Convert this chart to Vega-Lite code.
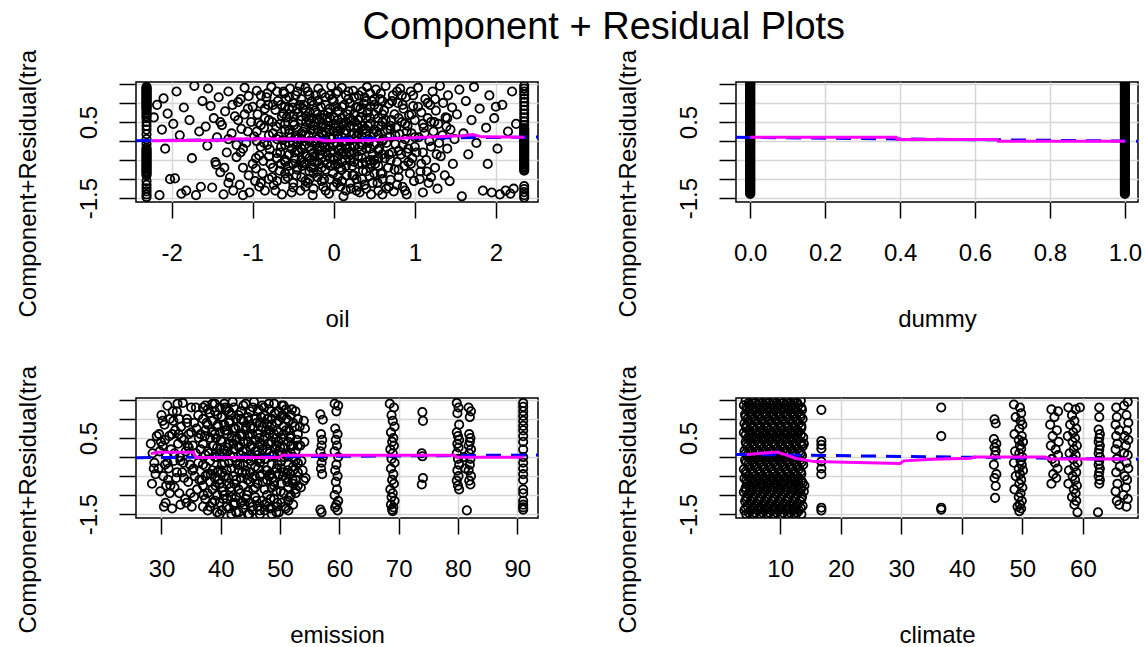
{
"$schema": "https://vega.github.io/schema/vega-lite/v6.json",
"padding": {"left": 15, "top": 8, "right": 0, "bottom": 0},
"background": "white",
"title": {"text": "Component + Residual Plots", "fontSize": 38, "font": "Liberation Sans", "fontWeight": "normal", "color": "black", "anchor": "middle", "baseline": "alphabetic", "offset": -28, "dx": 25},
"bounds": "flush",
"columns": 2,
"spacing": {"row": 196, "column": 198},
"config": {
  "font": "Liberation Sans",
  "view": {"stroke": "black", "strokeWidth": 1.5},
  "axis": {"domain": false, "grid": true, "gridColor": "#d6d6d6", "gridWidth": 1.5, "ticks": true, "tickColor": "black", "tickWidth": 1.5, "labelFont": "Liberation Sans", "labelFontSize": 24, "labelColor": "black", "titleFont": "Liberation Sans", "titleFontSize": 24, "titleFontWeight": "normal", "titleColor": "black", "labelFlush": false, "labelOverlap": false},
  "axisX": {"tickSize": 16, "labelPadding": 42, "labelBaseline": "alphabetic", "titleY": 124, "titleBaseline": "alphabetic"},
  "axisY": {"tickSize": 17, "labelAngle": 270, "labelAlign": "center", "labelBaseline": "alphabetic", "labelPadding": 23, "titleX": -101, "titleY": 235, "titleAlign": "left", "titleAngle": 270, "titleBaseline": "alphabetic"}
},
"datasets": {
"p1": [
{"x":-2.31,"y":1.42},{"x":-2.31,"y":1.36},{"x":-2.31,"y":1.3},{"x":-2.31,"y":1.24},{"x":-2.31,"y":1.18},{"x":-2.31,"y":1.12},{"x":-2.31,"y":1.06},{"x":-2.31,"y":1.0},{"x":-2.31,"y":0.94},{"x":-2.31,"y":0.88},{"x":-2.31,"y":0.8},{"x":-2.31,"y":0.7},{"x":-2.31,"y":0.6},{"x":-2.31,"y":0.5},{"x":-2.31,"y":0.4},{"x":-2.31,"y":0.3},{"x":-2.31,"y":0.18},{"x":-2.31,"y":0.05},{"x":-2.31,"y":-0.08},{"x":-2.31,"y":-0.18},{"x":-2.31,"y":-0.26},{"x":-2.31,"y":-0.33},{"x":-2.31,"y":-0.4},{"x":-2.31,"y":-0.47},{"x":-2.31,"y":-0.54},{"x":-2.31,"y":-0.61},{"x":-2.31,"y":-0.68},{"x":-2.31,"y":-0.75},{"x":-2.31,"y":-0.82},{"x":-2.31,"y":-0.9},{"x":-2.31,"y":-1.05},{"x":-2.31,"y":-1.15},{"x":-2.31,"y":-1.24},{"x":-2.31,"y":-1.32},{"x":-2.31,"y":-1.4},{"x":-2.31,"y":-1.47},
{"x":-2.31,"y":1.39},{"x":-2.31,"y":1.33},{"x":-2.31,"y":1.27},{"x":-2.31,"y":1.21},{"x":-2.31,"y":1.15},{"x":-2.31,"y":1.09},{"x":-2.31,"y":1.03},{"x":-2.31,"y":0.97},{"x":-2.31,"y":0.91},{"x":-2.31,"y":0.85},{"x":-2.31,"y":0.75},{"x":-2.31,"y":0.65},{"x":-2.31,"y":-0.22},{"x":-2.31,"y":-0.3},{"x":-2.31,"y":-0.37},{"x":-2.31,"y":-0.44},{"x":-2.31,"y":-0.51},{"x":-2.31,"y":-0.58},{"x":-2.31,"y":-0.65},{"x":-2.31,"y":-0.72},{"x":-2.31,"y":-0.79},{"x":-2.31,"y":-0.86},
{"x":2.35,"y":1.45},{"x":2.35,"y":1.38},{"x":2.35,"y":1.3},{"x":2.35,"y":1.22},{"x":2.35,"y":1.12},{"x":2.35,"y":1.02},{"x":2.35,"y":0.92},{"x":2.35,"y":0.82},{"x":2.35,"y":0.72},{"x":2.35,"y":0.62},{"x":2.35,"y":0.52},{"x":2.35,"y":0.42},{"x":2.35,"y":0.34},{"x":2.35,"y":0.26},{"x":2.35,"y":0.18},{"x":2.35,"y":0.1},{"x":2.35,"y":0.02},{"x":2.35,"y":-0.06},{"x":2.35,"y":-0.14},{"x":2.35,"y":-0.22},{"x":2.35,"y":-0.3},{"x":2.35,"y":-0.38},{"x":2.35,"y":-0.46},{"x":2.35,"y":-0.54},{"x":2.35,"y":-0.62},{"x":2.35,"y":-0.7},{"x":2.35,"y":-0.78},{"x":2.35,"y":-1.18},{"x":2.35,"y":-1.26},{"x":2.35,"y":-1.34},{"x":2.35,"y":-1.42},{"x":2.35,"y":-1.48},
{"x":2.35,"y":0.3},{"x":2.35,"y":0.22},{"x":2.35,"y":0.14},{"x":2.35,"y":0.06},{"x":2.35,"y":-0.02},{"x":2.35,"y":-0.1},{"x":2.35,"y":-0.18},{"x":2.35,"y":-0.26},{"x":2.35,"y":-0.34},{"x":2.35,"y":-0.42},{"x":2.35,"y":-0.5},{"x":2.35,"y":-0.58},{"x":2.35,"y":-0.66},{"x":2.35,"y":-0.74},
{"x":-2.22,"y":0.62},{"x":-2.18,"y":0.95},{"x":-2.15,"y":-1.42},{"x":-2.12,"y":0.3},{"x":-2.1,"y":1.12},{"x":-2.08,"y":-0.2},{"x":-2.05,"y":0.72},{"x":-2.02,"y":-1.0},{"x":-1.98,"y":0.45},{"x":-1.96,"y":-0.98},{"x":-1.94,"y":1.3},{"x":-1.9,"y":0.15},{"x":-1.88,"y":-1.38},{"x":-1.85,"y":0.88},{"x":-1.82,"y":-1.3},{"x":-1.78,"y":0.55},{"x":-1.75,"y":-0.45},{"x":-1.72,"y":1.45},{"x":-1.7,"y":-1.42},{"x":-1.66,"y":0.25},{"x":-1.64,"y":-1.2},{"x":-1.62,"y":1.05},
{"x":-1.58,"y":0.38},{"x":-1.56,"y":-0.12},{"x":-1.55,"y":1.38},{"x":-1.52,"y":0.92},{"x":-1.5,"y":-1.22},{"x":-1.48,"y":0.6},{"x":-1.46,"y":-0.55},{"x":-1.44,"y":0.1},{"x":-1.42,"y":1.15},{"x":-1.4,"y":-0.82},{"x":-1.38,"y":0.42},{"x":-1.36,"y":-1.4},{"x":-1.34,"y":0.78},{"x":-1.32,"y":-0.3},{"x":-1.3,"y":1.3},{"x":-1.28,"y":-0.95},{"x":-1.26,"y":0.2},{"x":-1.24,"y":-1.3},{"x":-1.22,"y":0.65},{"x":-1.2,"y":-0.42},{"x":-1.18,"y":1.02},{"x":-1.16,"y":-1.15},{"x":-1.14,"y":0.32},{"x":-1.12,"y":-0.7},{"x":-1.1,"y":1.4},{"x":-1.08,"y":-0.05},{"x":-1.06,"y":0.85},{"x":-1.04,"y":-1.35},{"x":-1.02,"y":0.5},{"x":-1.0,"y":-0.6},{"x":-1.45,"y":-0.62},{"x":-1.35,"y":-0.7},{"x":-1.25,"y":0.95},{"x":-1.15,"y":-0.3},{"x":-1.05,"y":1.18},{"x":-1.12,"y":-1.42},{"x":-1.3,"y":-1.1},
{"x":-0.98,"y":0.12},{"x":-0.97,"y":-1.05},{"x":-0.95,"y":1.32},{"x":-0.94,"y":0.7},{"x":-0.92,"y":-0.38},{"x":-0.9,"y":0.98},{"x":-0.88,"y":-0.85},{"x":-0.86,"y":0.35},{"x":-0.85,"y":-1.3},{"x":-0.83,"y":1.15},{"x":-0.82,"y":-0.1},{"x":-0.8,"y":0.55},{"x":-0.78,"y":-0.6},{"x":-0.77,"y":1.42},{"x":-0.75,"y":0.2},{"x":-0.74,"y":-1.15},{"x":-0.72,"y":0.82},{"x":-0.7,"y":-0.32},{"x":-0.69,"y":1.05},{"x":-0.67,"y":-0.78},{"x":-0.66,"y":0.45},{"x":-0.64,"y":-1.4},{"x":-0.63,"y":0.02},{"x":-0.61,"y":1.25},{"x":-0.6,"y":-0.5},{"x":-0.58,"y":0.62},{"x":-0.57,"y":-0.95},{"x":-0.55,"y":0.3},{"x":-0.54,"y":1.38},{"x":-0.52,"y":-0.2},{"x":-0.51,"y":0.88},{"x":-0.5,"y":-1.22},{"x":-0.93,"y":0.48},{"x":-0.87,"y":-0.52},{"x":-0.81,"y":0.95},{"x":-0.76,"y":-0.95},{"x":-0.71,"y":0.38},{"x":-0.65,"y":-0.15},{"x":-0.62,"y":0.72},{"x":-0.56,"y":-0.65},{"x":-0.53,"y":0.1},{"x":-0.96,"y":-0.72},{"x":-0.79,"y":-0.22},{"x":-0.68,"y":0.12},{"x":-0.59,"y":1.1},
{"x":-0.49,"y":0.42},{"x":-0.48,"y":-0.45},{"x":-0.47,"y":1.2},{"x":-0.46,"y":-0.9},{"x":-0.45,"y":0.05},{"x":-0.44,"y":0.75},{"x":-0.43,"y":-0.3},{"x":-0.42,"y":1.45},{"x":-0.41,"y":-1.3},{"x":-0.4,"y":0.55},{"x":-0.39,"y":-0.65},{"x":-0.38,"y":0.25},{"x":-0.37,"y":0.95},{"x":-0.36,"y":-0.1},{"x":-0.35,"y":-1.05},{"x":-0.34,"y":0.65},{"x":-0.33,"y":-0.4},{"x":-0.32,"y":1.3},{"x":-0.31,"y":0.15},{"x":-0.3,"y":-0.8},{"x":-0.29,"y":0.45},{"x":-0.28,"y":-0.25},{"x":-0.27,"y":1.05},{"x":-0.26,"y":-1.42},{"x":-0.25,"y":0.3},{"x":-0.24,"y":-0.55},{"x":-0.23,"y":0.8},{"x":-0.22,"y":-0.05},{"x":-0.21,"y":0.58},{"x":-0.2,"y":-0.95},{"x":-0.19,"y":1.38},{"x":-0.18,"y":0.1},{"x":-0.17,"y":-0.35},{"x":-0.16,"y":0.9},{"x":-0.15,"y":-0.7},{"x":-0.14,"y":0.38},{"x":-0.13,"y":-1.2},{"x":-0.12,"y":0.68},{"x":-0.11,"y":-0.15},{"x":-0.1,"y":1.15},{"x":-0.09,"y":0.22},{"x":-0.08,"y":-0.6},{"x":-0.07,"y":0.5},{"x":-0.06,"y":-1.38},{"x":-0.05,"y":0.85},{"x":-0.04,"y":-0.3},{"x":-0.03,"y":1.45},{"x":-0.02,"y":0.05},{"x":-0.01,"y":-0.85},{"x":0.0,"y":0.62},{"x":0.01,"y":-0.45},{"x":0.02,"y":0.35},{"x":0.03,"y":1.25},{"x":0.04,"y":-1.1},{"x":0.05,"y":0.15},{"x":0.06,"y":0.78},{"x":0.07,"y":-0.2},{"x":0.08,"y":-0.7},{"x":0.09,"y":0.48},{"x":0.1,"y":1.4},{"x":0.11,"y":-0.05},{"x":0.12,"y":-1.45},{"x":0.13,"y":0.95},{"x":0.14,"y":-0.5},{"x":0.15,"y":0.28},{"x":0.16,"y":-0.9},{"x":0.17,"y":0.7},{"x":0.18,"y":1.1},{"x":0.19,"y":-0.3},{"x":0.2,"y":0.02},{"x":0.21,"y":-1.25},{"x":0.22,"y":0.55},{"x":0.23,"y":-0.65},{"x":0.24,"y":1.32},{"x":0.25,"y":0.2},{"x":0.26,"y":-0.12},{"x":0.27,"y":0.88},{"x":0.28,"y":-1.0},{"x":0.29,"y":0.4},{"x":0.3,"y":-0.4},{"x":0.31,"y":1.2},{"x":0.32,"y":-1.35},{"x":0.33,"y":0.62},{"x":0.34,"y":-0.25},{"x":0.35,"y":0.1},{"x":0.36,"y":-0.78},{"x":0.37,"y":0.98},{"x":0.38,"y":-1.15},{"x":0.39,"y":0.32},{"x":0.4,"y":-0.55},{"x":0.41,"y":1.42},{"x":0.42,"y":0.75},{"x":0.43,"y":-0.05},{"x":0.44,"y":-0.92},{"x":0.45,"y":0.45},{"x":0.46,"y":-1.4},{"x":0.47,"y":1.05},{"x":0.48,"y":-0.35},{"x":0.49,"y":0.2},
{"x":-0.3,"y":0.0},{"x":-0.25,"y":-0.3},{"x":-0.2,"y":0.3},{"x":-0.15,"y":-0.45},{"x":-0.1,"y":0.05},{"x":-0.05,"y":-0.15},{"x":0.0,"y":0.25},{"x":0.05,"y":-0.4},{"x":0.1,"y":0.1},{"x":0.15,"y":-0.2},{"x":0.2,"y":0.4},{"x":0.25,"y":-0.55},{"x":-0.35,"y":0.35},{"x":-0.28,"y":-0.7},{"x":-0.18,"y":0.55},{"x":-0.08,"y":-0.38},{"x":0.02,"y":-0.62},{"x":0.12,"y":0.45},{"x":0.22,"y":-0.35},{"x":0.28,"y":0.12},{"x":-0.4,"y":-0.2},{"x":0.35,"y":-0.1},{"x":-0.12,"y":-0.05},{"x":0.08,"y":0.3},
{"x":-0.95,"y":0.25},{"x":-0.9,"y":-0.15},{"x":-0.85,"y":0.6},{"x":-0.8,"y":-0.4},{"x":-0.75,"y":0.95},{"x":-0.7,"y":0.05},{"x":-0.65,"y":-0.6},{"x":-0.6,"y":0.3},{"x":-0.55,"y":-0.05},{"x":-0.5,"y":0.65},{"x":-0.45,"y":-0.7},{"x":-0.4,"y":0.2},{"x":-0.35,"y":-0.35},{"x":-0.3,"y":0.75},{"x":-0.25,"y":-0.85},{"x":-0.2,"y":0.05},{"x":-0.15,"y":0.45},{"x":-0.1,"y":-0.5},{"x":-0.05,"y":0.3},{"x":0.0,"y":-0.25},{"x":0.05,"y":0.55},{"x":0.1,"y":-0.75},{"x":0.15,"y":0.0},{"x":0.2,"y":0.8},{"x":0.25,"y":-0.15},{"x":0.3,"y":0.35},{"x":0.35,"y":-0.6},{"x":0.4,"y":0.6},{"x":0.45,"y":-0.2},{"x":0.5,"y":0.3},{"x":0.55,"y":-0.45},{"x":0.6,"y":0.7},{"x":0.65,"y":-0.05},{"x":0.7,"y":0.4},{"x":0.75,"y":-0.75},{"x":0.8,"y":0.6},{"x":0.85,"y":-0.1},{"x":0.9,"y":0.25},{"x":0.95,"y":-0.6},{"x":1.0,"y":0.1},
{"x":-0.92,"y":-1.2},{"x":-0.82,"y":1.25},{"x":-0.72,"y":-1.3},{"x":-0.62,"y":1.3},{"x":-0.52,"y":-1.35},{"x":-0.42,"y":0.95},{"x":-0.32,"y":-1.1},{"x":-0.22,"y":1.2},{"x":-0.12,"y":-1.0},{"x":-0.02,"y":1.1},{"x":0.08,"y":-1.2},{"x":0.18,"y":1.3},{"x":0.28,"y":-1.3},{"x":0.38,"y":1.15},{"x":0.48,"y":-1.1},{"x":0.58,"y":1.25},{"x":0.68,"y":-1.2},{"x":0.78,"y":1.3},{"x":0.88,"y":-1.3},{"x":0.98,"y":1.2},
{"x":-0.47,"y":0.15},{"x":-0.37,"y":-0.55},{"x":-0.27,"y":0.6},{"x":-0.17,"y":-0.15},{"x":-0.07,"y":0.75},{"x":0.03,"y":-0.05},{"x":0.13,"y":0.2},{"x":0.23,"y":-0.9},{"x":0.33,"y":0.85},{"x":0.43,"y":0.05},{"x":-0.44,"y":-0.05},{"x":-0.34,"y":0.5},{"x":-0.24,"y":-0.4},{"x":-0.14,"y":0.2},{"x":-0.04,"y":-0.65},{"x":0.06,"y":0.4},{"x":0.16,"y":-0.35},{"x":0.26,"y":0.5},{"x":0.36,"y":0.3},{"x":0.46,"y":-0.6},{"x":-0.38,"y":0.85},{"x":-0.28,"y":0.3},{"x":-0.18,"y":-0.6},{"x":-0.08,"y":0.6},{"x":0.02,"y":0.9},{"x":0.12,"y":-0.3},{"x":0.22,"y":0.15},{"x":0.32,"y":-0.15},{"x":0.42,"y":0.4},{"x":-0.48,"y":-0.3},
{"x":-1.4,"y":0.5},{"x":-1.2,"y":-0.1},{"x":-1.1,"y":0.7},{"x":-1.3,"y":0.05},{"x":1.2,"y":0.5},{"x":1.3,"y":-0.05},{"x":1.1,"y":-0.3},{"x":1.4,"y":0.6},{"x":1.25,"y":1.1},{"x":1.15,"y":-0.8},{"x":-0.9,"y":0.42},{"x":-0.7,"y":-0.45},{"x":-0.55,"y":0.85},{"x":0.55,"y":0.15},{"x":0.7,"y":-0.5},{"x":0.85,"y":0.95},{"x":0.6,"y":-0.85},{"x":-0.6,"y":-0.85},{"x":-0.8,"y":0.15},{"x":0.8,"y":-0.25},
{"x":-0.6,"y":0.9},{"x":-0.6,"y":0.45},{"x":-0.6,"y":-0.1},{"x":-0.6,"y":-0.55},{"x":-0.6,"y":-1.0},
{"x":-0.55,"y":0.7},{"x":-0.55,"y":0.2},{"x":-0.55,"y":-0.35},{"x":-0.55,"y":-0.8},{"x":-0.55,"y":1.15},
{"x":-0.5,"y":1.0},{"x":-0.5,"y":0.5},{"x":-0.5,"y":-0.05},{"x":-0.5,"y":-0.6},{"x":-0.5,"y":-1.1},
{"x":-0.45,"y":0.85},{"x":-0.45,"y":0.3},{"x":-0.45,"y":-0.25},{"x":-0.45,"y":-0.75},{"x":-0.45,"y":1.3},
{"x":-0.4,"y":1.1},{"x":-0.4,"y":0.65},{"x":-0.4,"y":0.05},{"x":-0.4,"y":-0.5},{"x":-0.4,"y":-0.95},
{"x":-0.35,"y":0.8},{"x":-0.35,"y":0.15},{"x":-0.35,"y":-0.6},{"x":-0.35,"y":-1.2},{"x":-0.35,"y":1.4},
{"x":-0.3,"y":1.2},{"x":-0.3,"y":0.55},{"x":-0.3,"y":-0.15},{"x":-0.3,"y":-0.45},{"x":-0.3,"y":-1.0},
{"x":-0.25,"y":0.95},{"x":-0.25,"y":0.4},{"x":-0.25,"y":0.0},{"x":-0.25,"y":-0.7},{"x":-0.25,"y":-1.25},
{"x":-0.2,"y":1.05},{"x":-0.2,"y":0.7},{"x":-0.2,"y":-0.2},{"x":-0.2,"y":-0.55},{"x":-0.2,"y":-0.8},
{"x":-0.15,"y":1.25},{"x":-0.15,"y":0.6},{"x":-0.15,"y":0.2},{"x":-0.15,"y":-0.25},{"x":-0.15,"y":-1.05},
{"x":-0.1,"y":0.95},{"x":-0.1,"y":0.35},{"x":-0.1,"y":-0.3},{"x":-0.1,"y":-0.75},{"x":-0.1,"y":-1.3},
{"x":-0.05,"y":1.2},{"x":-0.05,"y":0.6},{"x":-0.05,"y":0.1},{"x":-0.05,"y":-0.45},{"x":-0.05,"y":-1.0},
{"x":0.0,"y":1.05},{"x":0.0,"y":0.45},{"x":0.0,"y":-0.1},{"x":0.0,"y":-0.5},{"x":0.0,"y":-1.2},
{"x":0.05,"y":1.3},{"x":0.05,"y":0.8},{"x":0.05,"y":0.25},{"x":0.05,"y":-0.6},{"x":0.05,"y":-0.95},
{"x":0.1,"y":0.9},{"x":0.1,"y":0.6},{"x":0.1,"y":-0.3},{"x":0.1,"y":-0.55},{"x":0.1,"y":-1.05},
{"x":0.15,"y":1.2},{"x":0.15,"y":0.5},{"x":0.15,"y":-0.1},{"x":0.15,"y":-0.65},{"x":0.15,"y":-1.3},
{"x":0.2,"y":1.0},{"x":0.2,"y":0.6},{"x":0.2,"y":-0.15},{"x":0.2,"y":-0.5},{"x":0.2,"y":-1.1},
{"x":0.25,"y":1.15},{"x":0.25,"y":0.7},{"x":0.25,"y":0.35},{"x":0.25,"y":-0.3},{"x":0.25,"y":-0.9},
{"x":0.3,"y":0.9},{"x":0.3,"y":0.55},{"x":0.3,"y":0.2},{"x":0.3,"y":-0.6},{"x":0.3,"y":-1.2},
{"x":0.35,"y":1.3},{"x":0.35,"y":0.75},{"x":0.35,"y":0.4},{"x":0.35,"y":-0.45},{"x":0.35,"y":-1.0},
{"x":0.4,"y":1.05},{"x":0.4,"y":0.2},{"x":0.4,"y":-0.2},{"x":0.4,"y":-0.8},{"x":0.4,"y":-1.25},
{"x":0.45,"y":0.9},{"x":0.45,"y":0.6},{"x":0.45,"y":-0.5},{"x":0.45,"y":-0.7},{"x":0.45,"y":1.25},
{"x":0.5,"y":1.1},{"x":0.5,"y":0.7},{"x":0.5,"y":-0.1},{"x":0.5,"y":-0.5},{"x":0.5,"y":-0.85},
{"x":0.55,"y":0.85},{"x":0.55,"y":0.4},{"x":0.55,"y":-0.25},{"x":0.55,"y":-0.65},{"x":0.55,"y":-1.3},
{"x":0.6,"y":1.05},{"x":0.6,"y":0.5},{"x":0.6,"y":0.0},{"x":0.6,"y":-0.35},{"x":0.6,"y":-1.0},
{"x":-1.18,"y":0.55},{"x":-1.12,"y":-0.2},{"x":-1.06,"y":0.25},{"x":-1.0,"y":0.9},{"x":-0.96,"y":-0.45},{"x":-0.9,"y":1.2},{"x":-0.86,"y":-0.05},{"x":-0.8,"y":-1.0},{"x":-0.76,"y":0.5},{"x":-0.7,"y":1.3},{"x":-0.66,"y":-0.3},{"x":-0.64,"y":0.65},{"x":-1.15,"y":1.1},{"x":-1.05,"y":-0.9},{"x":-0.95,"y":0.0},{"x":-0.85,"y":0.85},{"x":-0.75,"y":-0.7},{"x":-0.65,"y":0.95},{"x":-0.7,"y":-1.05},{"x":-0.9,"y":-1.1},
{"x":0.64,"y":0.55},{"x":0.68,"y":-0.35},{"x":0.72,"y":1.05},{"x":0.76,"y":0.15},{"x":0.8,"y":-0.75},{"x":0.84,"y":1.2},{"x":0.88,"y":0.45},{"x":0.92,"y":-0.55},{"x":0.96,"y":0.7},{"x":1.0,"y":-0.15},{"x":1.04,"y":0.9},{"x":1.08,"y":-0.6},{"x":1.12,"y":0.2},{"x":1.16,"y":1.0},{"x":1.2,"y":-0.95},{"x":1.24,"y":0.5},{"x":0.7,"y":0.3},{"x":0.9,"y":-0.3},{"x":1.1,"y":0.45},{"x":0.78,"y":-1.15},
{"x":0.5,"y":0.95},{"x":0.51,"y":-0.6},{"x":0.52,"y":1.35},{"x":0.53,"y":0.25},{"x":0.54,"y":-1.1},{"x":0.55,"y":0.6},{"x":0.56,"y":-0.2},{"x":0.57,"y":1.1},{"x":0.58,"y":-0.85},{"x":0.59,"y":0.4},{"x":0.6,"y":-1.4},{"x":0.61,"y":0.05},{"x":0.62,"y":0.8},{"x":0.63,"y":-0.45},{"x":0.64,"y":1.45},{"x":0.65,"y":-1.25},{"x":0.66,"y":0.3},{"x":0.67,"y":-0.7},{"x":0.68,"y":0.98},{"x":0.69,"y":0.12},{"x":0.7,"y":-1.02},{"x":0.71,"y":0.55},{"x":0.72,"y":-0.3},{"x":0.73,"y":1.2},{"x":0.74,"y":-1.32},{"x":0.75,"y":0.7},{"x":0.76,"y":-0.08},{"x":0.77,"y":0.35},{"x":0.78,"y":-0.55},{"x":0.79,"y":1.0},{"x":0.8,"y":-0.95},{"x":0.81,"y":0.18},{"x":0.82,"y":1.38},{"x":0.83,"y":-0.35},{"x":0.84,"y":0.5},{"x":0.85,"y":-1.2},{"x":0.86,"y":0.85},{"x":0.87,"y":-0.65},{"x":0.88,"y":0.05},{"x":0.89,"y":1.15},{"x":0.9,"y":-1.4},{"x":0.91,"y":0.4},{"x":0.92,"y":-0.2},{"x":0.93,"y":0.68},{"x":0.94,"y":-0.85},{"x":0.95,"y":1.3},{"x":0.96,"y":0.2},{"x":0.97,"y":-0.45},{"x":0.98,"y":0.92},{"x":0.99,"y":-1.05},
{"x":1.0,"y":0.55},{"x":1.02,"y":-0.3},{"x":1.04,"y":1.4},{"x":1.05,"y":0.1},{"x":1.07,"y":-0.8},{"x":1.08,"y":0.75},{"x":1.1,"y":-1.35},{"x":1.11,"y":0.35},{"x":1.13,"y":1.1},{"x":1.14,"y":-0.5},{"x":1.16,"y":0.6},{"x":1.17,"y":-1.1},{"x":1.19,"y":0.95},{"x":1.2,"y":-0.15},{"x":1.22,"y":1.3},{"x":1.23,"y":0.25},{"x":1.25,"y":-0.7},{"x":1.26,"y":0.8},{"x":1.28,"y":-1.25},{"x":1.29,"y":0.45},{"x":1.31,"y":1.45},{"x":1.32,"y":-0.4},{"x":1.34,"y":0.15},{"x":1.35,"y":1.0},{"x":1.37,"y":-0.9},{"x":1.38,"y":0.62},{"x":1.4,"y":-0.2},{"x":1.41,"y":1.2},{"x":1.43,"y":-1.05},{"x":1.44,"y":0.3},{"x":1.46,"y":0.88},{"x":1.47,"y":-0.6},{"x":1.49,"y":0.05},{"x":1.06,"y":-1.0},{"x":1.18,"y":0.0},{"x":1.27,"y":-0.35},{"x":1.39,"y":0.38},
{"x":1.52,"y":0.7},{"x":1.55,"y":1.35},{"x":1.58,"y":-1.45},{"x":1.6,"y":0.2},{"x":1.63,"y":1.05},{"x":1.66,"y":-0.35},{"x":1.7,"y":0.55},{"x":1.73,"y":1.42},{"x":1.76,"y":-0.05},{"x":1.8,"y":0.85},{"x":1.84,"y":-1.3},{"x":1.88,"y":0.35},{"x":1.92,"y":1.2},{"x":1.95,"y":-1.35},{"x":1.98,"y":0.6},{"x":2.02,"y":-0.2},{"x":2.05,"y":-1.4},{"x":2.08,"y":0.95},{"x":2.12,"y":-1.3},{"x":2.15,"y":0.25},{"x":2.18,"y":-1.38},{"x":2.2,"y":1.3},{"x":2.22,"y":-1.25},{"x":2.25,"y":0.45},{"x":1.9,"y":-0.6},{"x":2.0,"y":0.9}
],
"b1": [{"x":-2.44,"y":0.01},{"x":2.52,"y":0.105}],
"m1": [{"x":-2.25,"y":0.01},{"x":-1.35,"y":0.02},{"x":-1.3,"y":0.06},{"x":-0.2,"y":0.05},{"x":-0.12,"y":0.01},{"x":0.5,"y":0.02},{"x":0.75,"y":0.07},{"x":1.1,"y":0.1},{"x":1.58,"y":0.14},{"x":1.72,"y":0.17},{"x":1.82,"y":0.11},{"x":2.35,"y":0.1}],
"p2": [
{"x":0,"y":1.52},{"x":0,"y":1.49},{"x":0,"y":1.46},{"x":0,"y":1.43},{"x":0,"y":1.4},{"x":0,"y":1.37},{"x":0,"y":1.34},{"x":0,"y":1.31},{"x":0,"y":1.28},{"x":0,"y":1.25},{"x":0,"y":1.22},{"x":0,"y":1.19},{"x":0,"y":1.16},{"x":0,"y":1.13},{"x":0,"y":1.1},{"x":0,"y":1.07},{"x":0,"y":1.04},{"x":0,"y":1.01},{"x":0,"y":0.98},{"x":0,"y":0.95},{"x":0,"y":0.92},{"x":0,"y":0.89},{"x":0,"y":0.86},{"x":0,"y":0.83},{"x":0,"y":0.8},{"x":0,"y":0.77},{"x":0,"y":0.74},{"x":0,"y":0.71},{"x":0,"y":0.68},{"x":0,"y":0.65},{"x":0,"y":0.62},{"x":0,"y":0.59},{"x":0,"y":0.56},{"x":0,"y":0.53},{"x":0,"y":0.5},{"x":0,"y":0.47},{"x":0,"y":0.44},{"x":0,"y":0.41},{"x":0,"y":0.38},{"x":0,"y":0.35},{"x":0,"y":0.32},{"x":0,"y":0.29},{"x":0,"y":0.26},{"x":0,"y":0.23},{"x":0,"y":0.2},{"x":0,"y":0.17},{"x":0,"y":0.14},{"x":0,"y":0.11},{"x":0,"y":0.08},{"x":0,"y":0.05},{"x":0,"y":0.02},{"x":0,"y":-0.01},{"x":0,"y":-0.04},{"x":0,"y":-0.07},{"x":0,"y":-0.1},{"x":0,"y":-0.13},{"x":0,"y":-0.16},{"x":0,"y":-0.19},{"x":0,"y":-0.22},{"x":0,"y":-0.25},{"x":0,"y":-0.28},{"x":0,"y":-0.31},{"x":0,"y":-0.34},{"x":0,"y":-0.37},{"x":0,"y":-0.4},{"x":0,"y":-0.43},{"x":0,"y":-0.46},{"x":0,"y":-0.49},{"x":0,"y":-0.52},{"x":0,"y":-0.55},{"x":0,"y":-0.58},{"x":0,"y":-0.61},{"x":0,"y":-0.64},{"x":0,"y":-0.67},{"x":0,"y":-0.7},{"x":0,"y":-0.73},{"x":0,"y":-0.76},{"x":0,"y":-0.79},{"x":0,"y":-0.82},{"x":0,"y":-0.85},{"x":0,"y":-0.88},{"x":0,"y":-0.91},{"x":0,"y":-0.94},{"x":0,"y":-0.97},{"x":0,"y":-1.0},{"x":0,"y":-1.03},{"x":0,"y":-1.06},{"x":0,"y":-1.09},{"x":0,"y":-1.12},{"x":0,"y":-1.15},{"x":0,"y":-1.18},{"x":0,"y":-1.21},{"x":0,"y":-1.24},{"x":0,"y":-1.27},{"x":0,"y":-1.3},{"x":0,"y":-1.33},{"x":0,"y":-1.36},{"x":0,"y":-1.39},
{"x":1,"y":1.52},{"x":1,"y":1.49},{"x":1,"y":1.46},{"x":1,"y":1.43},{"x":1,"y":1.4},{"x":1,"y":1.37},{"x":1,"y":1.34},{"x":1,"y":1.31},{"x":1,"y":1.28},{"x":1,"y":1.25},{"x":1,"y":1.22},{"x":1,"y":1.19},{"x":1,"y":1.16},{"x":1,"y":1.13},{"x":1,"y":1.1},{"x":1,"y":1.07},{"x":1,"y":1.04},{"x":1,"y":1.01},{"x":1,"y":0.98},{"x":1,"y":0.95},{"x":1,"y":0.92},{"x":1,"y":0.89},{"x":1,"y":0.86},{"x":1,"y":0.83},{"x":1,"y":0.8},{"x":1,"y":0.77},{"x":1,"y":0.74},{"x":1,"y":0.71},{"x":1,"y":0.68},{"x":1,"y":0.65},{"x":1,"y":0.62},{"x":1,"y":0.59},{"x":1,"y":0.56},{"x":1,"y":0.53},{"x":1,"y":0.5},{"x":1,"y":0.47},{"x":1,"y":0.44},{"x":1,"y":0.41},{"x":1,"y":0.38},{"x":1,"y":0.35},{"x":1,"y":0.32},{"x":1,"y":0.29},{"x":1,"y":0.26},{"x":1,"y":0.23},{"x":1,"y":0.2},{"x":1,"y":0.17},{"x":1,"y":0.14},{"x":1,"y":0.11},{"x":1,"y":0.08},{"x":1,"y":0.05},{"x":1,"y":0.02},{"x":1,"y":-0.01},{"x":1,"y":-0.04},{"x":1,"y":-0.07},{"x":1,"y":-0.1},{"x":1,"y":-0.13},{"x":1,"y":-0.16},{"x":1,"y":-0.19},{"x":1,"y":-0.22},{"x":1,"y":-0.25},{"x":1,"y":-0.28},{"x":1,"y":-0.31},{"x":1,"y":-0.34},{"x":1,"y":-0.37},{"x":1,"y":-0.4},{"x":1,"y":-0.43},{"x":1,"y":-0.46},{"x":1,"y":-0.49},{"x":1,"y":-0.52},{"x":1,"y":-0.55},{"x":1,"y":-0.58},{"x":1,"y":-0.61},{"x":1,"y":-0.64},{"x":1,"y":-0.67},{"x":1,"y":-0.7},{"x":1,"y":-0.73},{"x":1,"y":-0.76},{"x":1,"y":-0.79},{"x":1,"y":-0.82},{"x":1,"y":-0.85},{"x":1,"y":-0.88},{"x":1,"y":-0.91},{"x":1,"y":-0.94},{"x":1,"y":-0.97},{"x":1,"y":-1.0},{"x":1,"y":-1.03},{"x":1,"y":-1.06},{"x":1,"y":-1.09},{"x":1,"y":-1.12},{"x":1,"y":-1.15},{"x":1,"y":-1.18},{"x":1,"y":-1.21},{"x":1,"y":-1.24},{"x":1,"y":-1.27},{"x":1,"y":-1.3},{"x":1,"y":-1.33},{"x":1,"y":-1.36},{"x":1,"y":-1.39}
],
"b2": [{"x":-0.038,"y":0.1},{"x":1.035,"y":-0.005}],
"m2": [{"x":0.0,"y":0.099},{"x":0.39,"y":0.099},{"x":0.392,"y":0.04},{"x":0.66,"y":0.04},{"x":0.662,"y":-0.006},{"x":1.0,"y":-0.006}],
"p3": [
{"x":28.2,"y":0.35},{"x":28.5,"y":0.1},{"x":28.8,"y":-0.15},{"x":29.0,"y":-0.45},{"x":28.4,"y":-0.7},{"x":29.2,"y":0.55},{"x":28.7,"y":-0.3},
{"x":29.6,"y":0.6},{"x":29.8,"y":-0.9},{"x":30.0,"y":1.1},{"x":30.2,"y":0.3},{"x":30.3,"y":-0.5},{"x":30.5,"y":0.85},{"x":30.7,"y":-1.2},{"x":30.8,"y":0.05},{"x":31.0,"y":1.35},{"x":31.2,"y":-0.3},{"x":31.3,"y":0.55},{"x":31.5,"y":-0.75},{"x":31.6,"y":0.2},{"x":31.8,"y":-1.35},{"x":32.0,"y":0.95},{"x":32.1,"y":-0.1},{"x":32.3,"y":0.7},{"x":32.5,"y":-0.55},{"x":32.6,"y":1.2},{"x":32.8,"y":0.35},{"x":33.0,"y":-0.95},{"x":33.1,"y":0.0},{"x":33.3,"y":0.8},{"x":33.5,"y":-0.4},{"x":33.6,"y":1.42},{"x":33.8,"y":0.45},{"x":34.0,"y":-1.1},{"x":34.1,"y":0.15},{"x":34.3,"y":1.0},{"x":34.5,"y":-0.65},{"x":34.6,"y":0.6},{"x":34.8,"y":-0.2},{"x":35.0,"y":1.3},{"x":35.1,"y":-1.3},{"x":35.3,"y":0.3},{"x":35.5,"y":0.9},{"x":35.6,"y":-0.5},{"x":35.8,"y":0.1},{"x":36.0,"y":-0.85},{"x":36.2,"y":1.1},{"x":36.3,"y":0.5},{"x":29.9,"y":0.4},{"x":30.6,"y":-0.2},{"x":31.4,"y":1.0},{"x":32.2,"y":-0.8},{"x":32.9,"y":0.6},{"x":33.7,"y":-0.15},{"x":34.4,"y":0.3},{"x":35.2,"y":-0.35},{"x":35.9,"y":0.75},{"x":31.1,"y":-0.6},{"x":33.2,"y":-1.25},{"x":34.9,"y":-0.95},{"x":30.4,"y":-1.3},{"x":32.7,"y":1.4},
{"x":30.2,"y":0.95},{"x":30.6,"y":0.45},{"x":31.0,"y":-0.15},{"x":31.4,"y":-0.95},{"x":31.8,"y":0.6},{"x":32.2,"y":0.1},{"x":32.6,"y":-0.4},{"x":33.0,"y":1.0},{"x":33.4,"y":0.5},{"x":33.8,"y":-0.55},{"x":34.2,"y":-1.2},{"x":34.6,"y":0.25},{"x":35.0,"y":0.65},{"x":35.4,"y":-0.3},{"x":35.8,"y":1.3},{"x":36.2,"y":-0.15},{"x":36.6,"y":0.6},{"x":30.8,"y":-0.75},{"x":31.9,"y":1.2},{"x":33.2,"y":-0.1},{"x":34.3,"y":0.9},{"x":35.5,"y":-1.05},{"x":36.4,"y":-0.6},{"x":29.7,"y":0.15},{"x":29.5,"y":-0.3},
{"x":36.6,"y":0.2},{"x":36.8,"y":-0.6},{"x":37.0,"y":1.3},{"x":37.1,"y":-1.0},{"x":37.3,"y":0.55},{"x":37.5,"y":-0.25},{"x":37.6,"y":0.9},{"x":37.8,"y":-1.4},{"x":38.0,"y":0.1},{"x":38.1,"y":1.15},{"x":38.3,"y":-0.45},{"x":38.5,"y":0.65},{"x":38.6,"y":-1.2},{"x":38.8,"y":0.3},{"x":39.0,"y":1.4},{"x":39.1,"y":-0.75},{"x":39.3,"y":0.0},{"x":39.5,"y":0.85},{"x":39.6,"y":-0.35},{"x":39.8,"y":-1.5},{"x":40.0,"y":0.45},{"x":40.1,"y":1.05},{"x":40.3,"y":-0.9},{"x":40.5,"y":0.2},{"x":40.6,"y":-0.15},{"x":40.8,"y":1.3},{"x":41.0,"y":-1.3},{"x":41.1,"y":0.6},{"x":41.3,"y":-0.55},{"x":41.5,"y":0.95},{"x":41.6,"y":0.05},{"x":41.8,"y":-1.05},{"x":42.0,"y":1.45},{"x":42.1,"y":0.35},{"x":42.3,"y":-0.7},{"x":42.5,"y":0.75},{"x":42.6,"y":-1.45},{"x":42.8,"y":-0.2},{"x":43.0,"y":1.1},{"x":43.1,"y":0.25},{"x":43.3,"y":-0.95},{"x":43.5,"y":0.55},{"x":43.6,"y":-0.4},{"x":43.8,"y":1.35},{"x":44.0,"y":-1.25},{"x":44.1,"y":0.0},{"x":44.3,"y":0.8},{"x":44.5,"y":-0.6},{"x":44.6,"y":0.4},{"x":44.8,"y":-1.5},{"x":45.0,"y":1.2},{"x":45.1,"y":-0.1},{"x":45.3,"y":0.6},{"x":45.5,"y":-0.85},{"x":45.6,"y":1.45},{"x":45.8,"y":0.15},{"x":46.0,"y":-1.15},{"x":46.1,"y":0.9},{"x":46.3,"y":-0.3},{"x":46.5,"y":0.5},{"x":46.6,"y":-1.4},{"x":46.8,"y":1.05},{"x":47.0,"y":0.2},{"x":47.1,"y":-0.65},{"x":47.3,"y":1.3},{"x":47.5,"y":-0.05},{"x":47.6,"y":0.7},{"x":47.8,"y":-1.0},{"x":48.0,"y":0.35},{"x":48.1,"y":1.4},{"x":48.3,"y":-0.45},{"x":48.5,"y":-1.35},{"x":48.6,"y":0.85},{"x":48.8,"y":0.05},{"x":49.0,"y":-0.75},{"x":49.1,"y":1.15},{"x":49.3,"y":0.5},{"x":49.5,"y":-1.2},{"x":49.6,"y":-0.2},{"x":49.8,"y":0.95},{"x":50.0,"y":0.25},{"x":50.1,"y":-0.9},{"x":50.3,"y":1.35},{"x":50.5,"y":-0.5},{"x":50.6,"y":0.6},{"x":50.8,"y":-1.3},{"x":51.0,"y":0.1},{"x":51.1,"y":1.0},{"x":51.3,"y":-0.35},{"x":51.5,"y":0.7},{"x":51.6,"y":-1.05},{"x":51.8,"y":0.3},{"x":52.0,"y":1.25},{"x":52.1,"y":-0.6},{"x":52.3,"y":0.0},{"x":52.5,"y":0.8},{"x":52.6,"y":-0.85},{"x":52.8,"y":0.45},{"x":53.0,"y":-0.15},
{"x":39.2,"y":0.5},{"x":39.7,"y":-0.6},{"x":40.2,"y":-0.4},{"x":40.7,"y":0.7},{"x":41.2,"y":0.25},{"x":41.7,"y":-0.8},{"x":42.2,"y":0.0},{"x":42.7,"y":0.5},{"x":43.2,"y":-0.2},{"x":43.7,"y":0.15},{"x":44.2,"y":-0.35},{"x":44.7,"y":0.95},{"x":45.2,"y":0.3},{"x":45.7,"y":-0.5},{"x":46.2,"y":0.15},{"x":46.7,"y":-0.05},{"x":47.2,"y":0.45},{"x":47.7,"y":-0.35},{"x":48.2,"y":0.6},{"x":48.7,"y":-0.55},{"x":49.2,"y":0.2},{"x":49.7,"y":0.4},{"x":50.2,"y":-0.3},{"x":50.7,"y":0.0},{"x":51.2,"y":-0.65},{"x":51.7,"y":0.5},{"x":52.2,"y":-0.25},{"x":40.4,"y":-1.1},{"x":41.4,"y":1.2},{"x":43.4,"y":1.0},{"x":44.4,"y":-1.0},{"x":46.4,"y":1.25},{"x":47.4,"y":-1.25},{"x":49.4,"y":-1.45},{"x":50.4,"y":1.1},{"x":51.4,"y":-1.4},{"x":42.4,"y":-1.2},{"x":45.4,"y":-1.3},{"x":48.4,"y":-1.1},{"x":39.4,"y":1.1},{"x":44.9,"y":0.6},{"x":47.9,"y":1.0},
{"x":37.0,"y":1.0},{"x":37.0,"y":0.35},{"x":37.0,"y":-0.2},{"x":37.0,"y":-0.75},{"x":37.0,"y":-1.3},
{"x":37.4,"y":1.35},{"x":37.4,"y":0.7},{"x":37.4,"y":0.05},{"x":37.4,"y":-0.5},{"x":37.4,"y":-1.1},
{"x":37.8,"y":0.85},{"x":37.8,"y":0.15},{"x":37.8,"y":-0.45},{"x":37.8,"y":-0.95},{"x":37.8,"y":1.25},
{"x":38.2,"y":1.15},{"x":38.2,"y":0.5},{"x":38.2,"y":-0.1},{"x":38.2,"y":-0.65},{"x":38.2,"y":-1.3},
{"x":38.6,"y":0.95},{"x":38.6,"y":0.3},{"x":38.6,"y":-0.35},{"x":38.6,"y":-0.85},{"x":38.6,"y":1.4},
{"x":39.0,"y":1.2},{"x":39.0,"y":0.6},{"x":39.0,"y":0.0},{"x":39.0,"y":-0.55},{"x":39.0,"y":-1.15},
{"x":39.4,"y":0.8},{"x":39.4,"y":0.25},{"x":39.4,"y":-0.4},{"x":39.4,"y":-1.0},{"x":39.4,"y":-1.45},
{"x":39.8,"y":1.3},{"x":39.8,"y":0.65},{"x":39.8,"y":0.1},{"x":39.8,"y":-0.7},{"x":39.8,"y":-1.2},
{"x":40.2,"y":1.05},{"x":40.2,"y":0.4},{"x":40.2,"y":-0.2},{"x":40.2,"y":-0.8},{"x":40.2,"y":-1.4},
{"x":40.6,"y":0.85},{"x":40.6,"y":0.1},{"x":40.6,"y":-0.5},{"x":40.6,"y":-1.0},{"x":40.6,"y":1.4},
{"x":41.0,"y":1.25},{"x":41.0,"y":0.7},{"x":41.0,"y":0.15},{"x":41.0,"y":-0.35},{"x":41.0,"y":-1.1},
{"x":41.4,"y":0.9},{"x":41.4,"y":0.35},{"x":41.4,"y":-0.15},{"x":41.4,"y":-0.7},{"x":41.4,"y":-1.35},
{"x":41.8,"y":1.1},{"x":41.8,"y":0.5},{"x":41.8,"y":-0.3},{"x":41.8,"y":-0.9},{"x":41.8,"y":-1.5},
{"x":42.2,"y":1.3},{"x":42.2,"y":0.75},{"x":42.2,"y":0.2},{"x":42.2,"y":-0.5},{"x":42.2,"y":-1.25},
{"x":42.6,"y":1.0},{"x":42.6,"y":0.45},{"x":42.6,"y":-0.1},{"x":42.6,"y":-0.6},{"x":42.6,"y":-1.05},
{"x":43.0,"y":0.8},{"x":43.0,"y":0.3},{"x":43.0,"y":-0.35},{"x":43.0,"y":-0.85},{"x":43.0,"y":-1.45},
{"x":43.4,"y":1.2},{"x":43.4,"y":0.6},{"x":43.4,"y":0.05},{"x":43.4,"y":-0.55},{"x":43.4,"y":-1.2},
{"x":43.8,"y":0.95},{"x":43.8,"y":0.4},{"x":43.8,"y":-0.2},{"x":43.8,"y":-0.75},{"x":43.8,"y":-1.35},
{"x":44.2,"y":1.4},{"x":44.2,"y":0.7},{"x":44.2,"y":0.2},{"x":44.2,"y":-0.45},{"x":44.2,"y":-1.1},
{"x":44.6,"y":1.05},{"x":44.6,"y":0.55},{"x":44.6,"y":-0.05},{"x":44.6,"y":-0.9},{"x":44.6,"y":-1.5},
{"x":45.0,"y":0.8},{"x":45.0,"y":0.25},{"x":45.0,"y":-0.4},{"x":45.0,"y":-0.65},{"x":45.0,"y":-1.2},
{"x":45.4,"y":1.3},{"x":45.4,"y":0.75},{"x":45.4,"y":0.0},{"x":45.4,"y":-0.55},{"x":45.4,"y":-1.4},
{"x":45.8,"y":1.0},{"x":45.8,"y":0.45},{"x":45.8,"y":-0.25},{"x":45.8,"y":-0.8},{"x":45.8,"y":-1.05},
{"x":46.2,"y":1.2},{"x":46.2,"y":0.6},{"x":46.2,"y":0.05},{"x":46.2,"y":-0.7},{"x":46.2,"y":-1.3},
{"x":46.6,"y":0.9},{"x":46.6,"y":0.35},{"x":46.6,"y":-0.15},{"x":46.6,"y":-0.5},{"x":46.6,"y":-1.5},
{"x":47.0,"y":1.35},{"x":47.0,"y":0.8},{"x":47.0,"y":0.3},{"x":47.0,"y":-0.45},{"x":47.0,"y":-1.15},
{"x":47.4,"y":1.1},{"x":47.4,"y":0.55},{"x":47.4,"y":-0.05},{"x":47.4,"y":-0.85},{"x":47.4,"y":-1.4},
{"x":47.8,"y":0.85},{"x":47.8,"y":0.2},{"x":47.8,"y":-0.35},{"x":47.8,"y":-0.6},{"x":47.8,"y":-1.2},
{"x":48.2,"y":1.25},{"x":48.2,"y":0.7},{"x":48.2,"y":0.1},{"x":48.2,"y":-0.5},{"x":48.2,"y":-1.35},
{"x":48.6,"y":1.0},{"x":48.6,"y":0.4},{"x":48.6,"y":-0.2},{"x":48.6,"y":-0.8},{"x":48.6,"y":-1.5},
{"x":49.0,"y":1.4},{"x":49.0,"y":0.6},{"x":49.0,"y":0.05},{"x":49.0,"y":-0.65},{"x":49.0,"y":-1.1},
{"x":49.4,"y":0.9},{"x":49.4,"y":0.3},{"x":49.4,"y":-0.3},{"x":49.4,"y":-0.9},{"x":49.4,"y":-1.3},
{"x":49.8,"y":1.2},{"x":49.8,"y":0.65},{"x":49.8,"y":0.15},{"x":49.8,"y":-0.45},{"x":49.8,"y":-1.45},
{"x":50.2,"y":1.05},{"x":50.2,"y":0.5},{"x":50.2,"y":-0.1},{"x":50.2,"y":-0.7},{"x":50.2,"y":-1.2},
{"x":50.6,"y":0.8},{"x":50.6,"y":0.25},{"x":50.6,"y":-0.4},{"x":50.6,"y":-0.95},{"x":50.6,"y":1.35},
{"x":51.0,"y":1.25},{"x":51.0,"y":0.7},{"x":51.0,"y":0.05},{"x":51.0,"y":-0.55},{"x":51.0,"y":-1.35},
{"x":51.4,"y":0.95},{"x":51.4,"y":0.4},{"x":51.4,"y":-0.2},{"x":51.4,"y":-0.8},{"x":51.4,"y":-1.15},
{"x":51.8,"y":1.1},{"x":51.8,"y":0.55},{"x":51.8,"y":0.1},{"x":51.8,"y":-0.45},{"x":51.8,"y":-1.0},
{"x":52.2,"y":0.9},{"x":52.2,"y":0.3},{"x":52.2,"y":-0.35},{"x":52.2,"y":-0.7},{"x":52.2,"y":-1.25},
{"x":52.6,"y":1.2},{"x":52.6,"y":0.15},{"x":52.6,"y":-0.1},{"x":52.6,"y":-0.6},{"x":52.6,"y":-0.95},
{"x":53.0,"y":0.6},{"x":53.0,"y":0.3},{"x":53.0,"y":-0.4},{"x":53.0,"y":-0.75},{"x":53.0,"y":1.0},
{"x":53.3,"y":0.8},{"x":53.6,"y":-0.1},{"x":53.4,"y":0.3},{"x":53.5,"y":-0.8},
{"x":54.0,"y":0.95},{"x":54.2,"y":0.75},{"x":54.1,"y":0.4},{"x":53.8,"y":-0.35},{"x":54.3,"y":-0.55},{"x":54.0,"y":-0.62},
{"x":56.8,"y":1.12},{"x":57.2,"y":0.98},{"x":56.9,"y":0.6},{"x":57.1,"y":0.45},{"x":57.0,"y":0.3},{"x":56.8,"y":0.15},{"x":57.2,"y":0.0},{"x":57.0,"y":-0.15},{"x":56.9,"y":-0.3},{"x":57.1,"y":-0.45},{"x":57.0,"y":-1.45},{"x":56.8,"y":-1.38},
{"x":59.2,"y":1.4},{"x":59.8,"y":1.35},{"x":59.5,"y":1.2},{"x":59.3,"y":0.75},{"x":59.7,"y":0.6},{"x":59.4,"y":0.45},{"x":59.6,"y":0.3},{"x":59.2,"y":0.15},{"x":59.8,"y":0.0},{"x":59.5,"y":-0.2},{"x":59.3,"y":-0.35},{"x":59.7,"y":-0.5},{"x":59.4,"y":-0.65},{"x":59.6,"y":-0.85},{"x":59.2,"y":-1.0},{"x":59.8,"y":-1.15},{"x":59.5,"y":-1.25},{"x":59.3,"y":-1.32},{"x":59.7,"y":-1.4},
{"x":68.5,"y":1.4},{"x":69.2,"y":1.3},{"x":68.8,"y":1.1},{"x":69.0,"y":0.95},{"x":69.3,"y":0.8},{"x":68.7,"y":0.65},{"x":69.1,"y":0.5},{"x":68.9,"y":0.4},{"x":69.2,"y":0.3},{"x":68.6,"y":0.2},{"x":69.0,"y":0.1},{"x":68.8,"y":-0.05},{"x":69.3,"y":-0.15},{"x":68.7,"y":-0.3},{"x":69.1,"y":-0.45},{"x":68.9,"y":-0.6},{"x":69.2,"y":-0.7},{"x":68.6,"y":-0.85},{"x":69.0,"y":-0.95},{"x":68.8,"y":-1.05},{"x":69.3,"y":-1.15},{"x":68.7,"y":-1.25},{"x":69.1,"y":-1.32},{"x":68.9,"y":-1.38},{"x":69.0,"y":-1.42},
{"x":74.0,"y":1.18},{"x":74.1,"y":0.95},{"x":73.9,"y":0.1},{"x":74.0,"y":0.02},{"x":74.1,"y":-0.55},{"x":73.9,"y":-0.72},
{"x":79.8,"y":1.42},{"x":80.1,"y":1.3},{"x":79.9,"y":1.15},{"x":80.2,"y":0.85},{"x":79.8,"y":0.65},{"x":80.0,"y":0.55},{"x":80.2,"y":0.45},{"x":79.9,"y":0.35},{"x":80.1,"y":0.25},{"x":79.8,"y":0.1},{"x":80.0,"y":-0.05},{"x":80.2,"y":-0.2},{"x":79.9,"y":-0.35},{"x":80.1,"y":-0.5},{"x":79.8,"y":-0.62},{"x":80.0,"y":-0.75},{"x":80.2,"y":-0.85},
{"x":81.8,"y":1.3},{"x":82.2,"y":1.2},{"x":82.0,"y":1.05},{"x":81.9,"y":0.6},{"x":82.1,"y":0.5},{"x":82.0,"y":0.4},{"x":81.8,"y":0.3},{"x":82.2,"y":0.2},{"x":81.9,"y":0.1},{"x":82.1,"y":-0.05},{"x":82.0,"y":-0.2},{"x":81.8,"y":-0.35},{"x":82.2,"y":-0.5},{"x":81.9,"y":-0.62},{"x":82.1,"y":-0.72},{"x":81.5,"y":-1.4},{"x":81.0,"y":0.0},{"x":81.2,"y":-0.3},
{"x":91.0,"y":1.42},{"x":91.0,"y":1.32},{"x":91.0,"y":1.2},{"x":91.0,"y":1.08},{"x":91.0,"y":0.95},{"x":91.0,"y":0.82},{"x":91.0,"y":0.7},{"x":91.0,"y":0.55},{"x":91.0,"y":0.4},{"x":91.0,"y":0.2},{"x":91.0,"y":0.0},{"x":91.0,"y":-0.15},{"x":91.0,"y":-0.3},{"x":91.0,"y":-0.45},{"x":91.0,"y":-0.6},{"x":91.0,"y":-0.85},{"x":91.0,"y":-0.95},{"x":91.0,"y":-1.15},{"x":91.0,"y":-1.25},{"x":91.0,"y":-1.32},{"x":91.0,"y":-1.38}
],
"b3": [{"x":25.7,"y":-0.016},{"x":93.5,"y":0.054}],
"m3": [{"x":28.2,"y":0.09},{"x":29.4,"y":0.124},{"x":35.4,"y":0.124},{"x":35.8,"y":-0.015},{"x":49.9,"y":-0.01},{"x":50.3,"y":0.045},{"x":79.4,"y":0.045},{"x":79.8,"y":-0.007},{"x":91.0,"y":-0.007}],
"p4": [
{"x":4.3,"y":1.48},{"x":5.4,"y":1.48},{"x":6.6,"y":1.48},{"x":7.7,"y":1.48},{"x":8.9,"y":1.48},{"x":10.0,"y":1.48},{"x":11.2,"y":1.48},{"x":12.3,"y":1.48},{"x":13.4,"y":1.48},
{"x":4.0,"y":1.36},{"x":4.9,"y":1.36},{"x":6.1,"y":1.36},{"x":7.2,"y":1.36},{"x":8.4,"y":1.36},{"x":9.5,"y":1.36},{"x":10.7,"y":1.36},{"x":11.8,"y":1.36},{"x":13.0,"y":1.36},
{"x":4.5,"y":1.24},{"x":5.6,"y":1.24},{"x":6.8,"y":1.24},{"x":7.9,"y":1.24},{"x":9.1,"y":1.24},{"x":10.2,"y":1.24},{"x":11.4,"y":1.24},{"x":12.5,"y":1.24},{"x":13.6,"y":1.24},
{"x":4.2,"y":1.12},{"x":5.2,"y":1.12},{"x":6.4,"y":1.12},{"x":7.5,"y":1.12},{"x":8.7,"y":1.12},{"x":9.8,"y":1.12},{"x":11.0,"y":1.12},{"x":12.1,"y":1.12},{"x":13.3,"y":1.12},
{"x":4.6,"y":1.0},{"x":5.8,"y":1.0},{"x":6.9,"y":1.0},{"x":8.1,"y":1.0},{"x":9.2,"y":1.0},{"x":10.4,"y":1.0},{"x":11.5,"y":1.0},{"x":12.7,"y":1.0},{"x":13.7,"y":1.0},
{"x":4.1,"y":0.88},{"x":5.1,"y":0.88},{"x":6.3,"y":0.88},{"x":7.4,"y":0.88},{"x":8.6,"y":0.88},{"x":9.7,"y":0.88},{"x":10.9,"y":0.88},{"x":12.0,"y":0.88},{"x":13.1,"y":0.88},
{"x":4.4,"y":0.76},{"x":5.5,"y":0.76},{"x":6.7,"y":0.76},{"x":7.8,"y":0.76},{"x":9.0,"y":0.76},{"x":10.1,"y":0.76},{"x":11.3,"y":0.76},{"x":12.4,"y":0.76},{"x":13.5,"y":0.76},
{"x":4.0,"y":0.64},{"x":5.0,"y":0.64},{"x":6.2,"y":0.64},{"x":7.3,"y":0.64},{"x":8.5,"y":0.64},{"x":9.6,"y":0.64},{"x":10.8,"y":0.64},{"x":11.9,"y":0.64},{"x":13.0,"y":0.64},
{"x":4.7,"y":0.52},{"x":5.9,"y":0.52},{"x":7.0,"y":0.52},{"x":8.2,"y":0.52},{"x":9.3,"y":0.52},{"x":10.5,"y":0.52},{"x":11.6,"y":0.52},{"x":12.8,"y":0.52},{"x":13.8,"y":0.52},
{"x":4.3,"y":0.4},{"x":5.3,"y":0.4},{"x":6.5,"y":0.4},{"x":7.6,"y":0.4},{"x":8.8,"y":0.4},{"x":9.9,"y":0.4},{"x":11.1,"y":0.4},{"x":12.2,"y":0.4},{"x":13.4,"y":0.4},
{"x":4.6,"y":0.28},{"x":5.7,"y":0.28},{"x":6.9,"y":0.28},{"x":8.0,"y":0.28},{"x":9.2,"y":0.28},{"x":10.3,"y":0.28},{"x":11.5,"y":0.28},{"x":12.6,"y":0.28},{"x":13.7,"y":0.28},
{"x":4.1,"y":0.16},{"x":5.2,"y":0.16},{"x":6.4,"y":0.16},{"x":7.5,"y":0.16},{"x":8.7,"y":0.16},{"x":9.8,"y":0.16},{"x":11.0,"y":0.16},{"x":12.1,"y":0.16},{"x":13.2,"y":0.16},
{"x":4.5,"y":0.04},{"x":5.6,"y":0.04},{"x":6.8,"y":0.04},{"x":7.9,"y":0.04},{"x":9.1,"y":0.04},{"x":10.2,"y":0.04},{"x":11.4,"y":0.04},{"x":12.5,"y":0.04},{"x":13.6,"y":0.04},
{"x":4.2,"y":-0.08},{"x":5.3,"y":-0.08},{"x":6.5,"y":-0.08},{"x":7.6,"y":-0.08},{"x":8.8,"y":-0.08},{"x":9.9,"y":-0.08},{"x":11.1,"y":-0.08},{"x":12.2,"y":-0.08},{"x":13.3,"y":-0.08},
{"x":4.7,"y":-0.2},{"x":5.8,"y":-0.2},{"x":7.0,"y":-0.2},{"x":8.1,"y":-0.2},{"x":9.3,"y":-0.2},{"x":10.4,"y":-0.2},{"x":11.6,"y":-0.2},{"x":12.7,"y":-0.2},{"x":13.8,"y":-0.2},
{"x":4.0,"y":-0.32},{"x":5.1,"y":-0.32},{"x":6.3,"y":-0.32},{"x":7.4,"y":-0.32},{"x":8.6,"y":-0.32},{"x":9.7,"y":-0.32},{"x":10.9,"y":-0.32},{"x":12.0,"y":-0.32},{"x":13.1,"y":-0.32},
{"x":4.4,"y":-0.44},{"x":5.5,"y":-0.44},{"x":6.7,"y":-0.44},{"x":7.8,"y":-0.44},{"x":9.0,"y":-0.44},{"x":10.1,"y":-0.44},{"x":11.3,"y":-0.44},{"x":12.4,"y":-0.44},{"x":13.5,"y":-0.44},
{"x":4.1,"y":-0.56},{"x":5.0,"y":-0.56},{"x":6.2,"y":-0.56},{"x":7.3,"y":-0.56},{"x":8.5,"y":-0.56},{"x":9.6,"y":-0.56},{"x":10.8,"y":-0.56},{"x":11.9,"y":-0.56},{"x":13.0,"y":-0.56},
{"x":4.6,"y":-0.68},{"x":5.7,"y":-0.68},{"x":6.9,"y":-0.68},{"x":8.0,"y":-0.68},{"x":9.2,"y":-0.68},{"x":10.3,"y":-0.68},{"x":11.5,"y":-0.68},{"x":12.6,"y":-0.68},{"x":13.7,"y":-0.68},
{"x":4.3,"y":-0.8},{"x":5.4,"y":-0.8},{"x":6.6,"y":-0.8},{"x":7.7,"y":-0.8},{"x":8.9,"y":-0.8},{"x":10.0,"y":-0.8},{"x":11.2,"y":-0.8},{"x":12.3,"y":-0.8},{"x":13.4,"y":-0.8},
{"x":4.0,"y":-0.92},{"x":4.9,"y":-0.92},{"x":6.1,"y":-0.92},{"x":7.2,"y":-0.92},{"x":8.4,"y":-0.92},{"x":9.5,"y":-0.92},{"x":10.7,"y":-0.92},{"x":11.8,"y":-0.92},{"x":13.0,"y":-0.92},
{"x":4.5,"y":-1.04},{"x":5.6,"y":-1.04},{"x":6.8,"y":-1.04},{"x":7.9,"y":-1.04},{"x":9.1,"y":-1.04},{"x":10.2,"y":-1.04},{"x":11.4,"y":-1.04},{"x":12.5,"y":-1.04},{"x":13.6,"y":-1.04},
{"x":4.2,"y":-1.16},{"x":5.2,"y":-1.16},{"x":6.4,"y":-1.16},{"x":7.5,"y":-1.16},{"x":8.7,"y":-1.16},{"x":9.8,"y":-1.16},{"x":11.0,"y":-1.16},{"x":12.1,"y":-1.16},{"x":13.3,"y":-1.16},
{"x":4.6,"y":-1.28},{"x":5.8,"y":-1.28},{"x":6.9,"y":-1.28},{"x":8.1,"y":-1.28},{"x":9.2,"y":-1.28},{"x":10.4,"y":-1.28},{"x":11.5,"y":-1.28},{"x":12.7,"y":-1.28},{"x":13.7,"y":-1.28},
{"x":4.1,"y":-1.4},{"x":5.1,"y":-1.4},{"x":6.3,"y":-1.4},{"x":7.4,"y":-1.4},{"x":8.6,"y":-1.4},{"x":9.7,"y":-1.4},{"x":10.9,"y":-1.4},{"x":12.0,"y":-1.4},{"x":13.1,"y":-1.4},
{"x":4.4,"y":-1.5},{"x":5.5,"y":-1.5},{"x":6.7,"y":-1.5},{"x":7.8,"y":-1.5},{"x":9.0,"y":-1.5},{"x":10.1,"y":-1.5},{"x":11.3,"y":-1.5},{"x":12.4,"y":-1.5},{"x":13.5,"y":-1.5},
{"x":4.8,"y":1.42},{"x":5.9,"y":1.42},{"x":7.1,"y":1.42},{"x":8.2,"y":1.42},{"x":9.4,"y":1.42},{"x":10.5,"y":1.42},{"x":11.7,"y":1.42},{"x":12.8,"y":1.42},
{"x":4.4,"y":1.3},{"x":5.5,"y":1.3},{"x":6.6,"y":1.3},{"x":7.8,"y":1.3},{"x":8.9,"y":1.3},{"x":10.1,"y":1.3},{"x":11.2,"y":1.3},{"x":12.4,"y":1.3},{"x":13.5,"y":1.3},
{"x":4.9,"y":1.18},{"x":6.0,"y":1.18},{"x":7.2,"y":1.18},{"x":8.3,"y":1.18},{"x":9.5,"y":1.18},{"x":10.6,"y":1.18},{"x":11.8,"y":1.18},{"x":12.9,"y":1.18},
{"x":4.3,"y":1.06},{"x":5.4,"y":1.06},{"x":6.5,"y":1.06},{"x":7.7,"y":1.06},{"x":8.8,"y":1.06},{"x":10.0,"y":1.06},{"x":11.1,"y":1.06},{"x":12.3,"y":1.06},{"x":13.4,"y":1.06},
{"x":4.8,"y":0.94},{"x":5.9,"y":0.94},{"x":7.1,"y":0.94},{"x":8.2,"y":0.94},{"x":9.4,"y":0.94},{"x":10.5,"y":0.94},{"x":11.7,"y":0.94},{"x":12.8,"y":0.94},
{"x":4.4,"y":0.82},{"x":5.5,"y":0.82},{"x":6.6,"y":0.82},{"x":7.8,"y":0.82},{"x":8.9,"y":0.82},{"x":10.1,"y":0.82},{"x":11.2,"y":0.82},{"x":12.4,"y":0.82},{"x":13.5,"y":0.82},
{"x":4.9,"y":0.7},{"x":6.0,"y":0.7},{"x":7.2,"y":0.7},{"x":8.3,"y":0.7},{"x":9.5,"y":0.7},{"x":10.6,"y":0.7},{"x":11.8,"y":0.7},{"x":12.9,"y":0.7},
{"x":4.3,"y":0.58},{"x":5.4,"y":0.58},{"x":6.5,"y":0.58},{"x":7.7,"y":0.58},{"x":8.8,"y":0.58},{"x":10.0,"y":0.58},{"x":11.1,"y":0.58},{"x":12.3,"y":0.58},{"x":13.4,"y":0.58},
{"x":4.8,"y":0.46},{"x":5.9,"y":0.46},{"x":7.1,"y":0.46},{"x":8.2,"y":0.46},{"x":9.4,"y":0.46},{"x":10.5,"y":0.46},{"x":11.7,"y":0.46},{"x":12.8,"y":0.46},
{"x":4.4,"y":0.34},{"x":5.5,"y":0.34},{"x":6.6,"y":0.34},{"x":7.8,"y":0.34},{"x":8.9,"y":0.34},{"x":10.1,"y":0.34},{"x":11.2,"y":0.34},{"x":12.4,"y":0.34},{"x":13.5,"y":0.34},
{"x":4.9,"y":0.22},{"x":6.0,"y":0.22},{"x":7.2,"y":0.22},{"x":8.3,"y":0.22},{"x":9.5,"y":0.22},{"x":10.6,"y":0.22},{"x":11.8,"y":0.22},{"x":12.9,"y":0.22},
{"x":4.3,"y":0.1},{"x":5.4,"y":0.1},{"x":6.5,"y":0.1},{"x":7.7,"y":0.1},{"x":8.8,"y":0.1},{"x":10.0,"y":0.1},{"x":11.1,"y":0.1},{"x":12.3,"y":0.1},{"x":13.4,"y":0.1},
{"x":4.8,"y":-0.02},{"x":5.9,"y":-0.02},{"x":7.1,"y":-0.02},{"x":8.2,"y":-0.02},{"x":9.4,"y":-0.02},{"x":10.5,"y":-0.02},{"x":11.7,"y":-0.02},{"x":12.8,"y":-0.02},
{"x":4.4,"y":-0.14},{"x":5.5,"y":-0.14},{"x":6.6,"y":-0.14},{"x":7.8,"y":-0.14},{"x":8.9,"y":-0.14},{"x":10.1,"y":-0.14},{"x":11.2,"y":-0.14},{"x":12.4,"y":-0.14},{"x":13.5,"y":-0.14},
{"x":4.9,"y":-0.26},{"x":6.0,"y":-0.26},{"x":7.2,"y":-0.26},{"x":8.3,"y":-0.26},{"x":9.5,"y":-0.26},{"x":10.6,"y":-0.26},{"x":11.8,"y":-0.26},{"x":12.9,"y":-0.26},
{"x":4.3,"y":-0.38},{"x":5.4,"y":-0.38},{"x":6.5,"y":-0.38},{"x":7.7,"y":-0.38},{"x":8.8,"y":-0.38},{"x":10.0,"y":-0.38},{"x":11.1,"y":-0.38},{"x":12.3,"y":-0.38},{"x":13.4,"y":-0.38},
{"x":4.8,"y":-0.5},{"x":5.9,"y":-0.5},{"x":7.1,"y":-0.5},{"x":8.2,"y":-0.5},{"x":9.4,"y":-0.5},{"x":10.5,"y":-0.5},{"x":11.7,"y":-0.5},{"x":12.8,"y":-0.5},
{"x":4.4,"y":-0.62},{"x":5.5,"y":-0.62},{"x":6.6,"y":-0.62},{"x":7.8,"y":-0.62},{"x":8.9,"y":-0.62},{"x":10.1,"y":-0.62},{"x":11.2,"y":-0.62},{"x":12.4,"y":-0.62},{"x":13.5,"y":-0.62},
{"x":4.9,"y":-0.74},{"x":6.0,"y":-0.74},{"x":7.2,"y":-0.74},{"x":8.3,"y":-0.74},{"x":9.5,"y":-0.74},{"x":10.6,"y":-0.74},{"x":11.8,"y":-0.74},{"x":12.9,"y":-0.74},
{"x":4.3,"y":-0.86},{"x":5.4,"y":-0.86},{"x":6.5,"y":-0.86},{"x":7.7,"y":-0.86},{"x":8.8,"y":-0.86},{"x":10.0,"y":-0.86},{"x":11.1,"y":-0.86},{"x":12.3,"y":-0.86},{"x":13.4,"y":-0.86},
{"x":4.8,"y":-0.98},{"x":5.9,"y":-0.98},{"x":7.1,"y":-0.98},{"x":8.2,"y":-0.98},{"x":9.4,"y":-0.98},{"x":10.5,"y":-0.98},{"x":11.7,"y":-0.98},{"x":12.8,"y":-0.98},
{"x":4.4,"y":-1.1},{"x":5.5,"y":-1.1},{"x":6.6,"y":-1.1},{"x":7.8,"y":-1.1},{"x":8.9,"y":-1.1},{"x":10.1,"y":-1.1},{"x":11.2,"y":-1.1},{"x":12.4,"y":-1.1},{"x":13.5,"y":-1.1},
{"x":4.9,"y":-1.22},{"x":6.0,"y":-1.22},{"x":7.2,"y":-1.22},{"x":8.3,"y":-1.22},{"x":9.5,"y":-1.22},{"x":10.6,"y":-1.22},{"x":11.8,"y":-1.22},{"x":12.9,"y":-1.22},
{"x":4.3,"y":-1.34},{"x":5.4,"y":-1.34},{"x":6.5,"y":-1.34},{"x":7.7,"y":-1.34},{"x":8.8,"y":-1.34},{"x":10.0,"y":-1.34},{"x":11.1,"y":-1.34},{"x":12.3,"y":-1.34},{"x":13.4,"y":-1.34},
{"x":4.8,"y":-1.46},{"x":5.9,"y":-1.46},{"x":7.1,"y":-1.46},{"x":8.2,"y":-1.46},{"x":9.4,"y":-1.46},{"x":10.5,"y":-1.46},{"x":11.7,"y":-1.46},{"x":12.8,"y":-1.46},
{"x":13.9,"y":0.35},{"x":14.0,"y":-0.75},{"x":13.9,"y":-0.9},
{"x":16.8,"y":1.24},{"x":16.8,"y":0.42},{"x":16.8,"y":0.32},{"x":16.8,"y":0.22},{"x":16.8,"y":-0.12},{"x":16.8,"y":-0.3},{"x":16.8,"y":-0.45},{"x":16.8,"y":-1.33},{"x":16.8,"y":-1.4},
{"x":36.6,"y":1.3},{"x":36.6,"y":0.55},{"x":36.6,"y":-1.33},{"x":36.6,"y":-1.38},
{"x":45.4,"y":0.99},{"x":45.6,"y":0.88},{"x":45.3,"y":0.47},{"x":45.7,"y":0.35},{"x":45.4,"y":0.25},{"x":45.6,"y":0.16},{"x":45.5,"y":0.05},{"x":45.3,"y":-0.2},{"x":45.7,"y":-0.45},{"x":45.4,"y":-0.55},{"x":45.6,"y":-0.76},{"x":45.5,"y":-1.07},
{"x":48.6,"y":1.38},{"x":49.6,"y":1.3},{"x":49.8,"y":1.15},{"x":48.9,"y":1.05},{"x":49.7,"y":0.95},{"x":50.0,"y":0.85},{"x":49.5,"y":0.75},{"x":48.7,"y":0.6},{"x":49.9,"y":0.55},{"x":49.4,"y":0.45},{"x":50.1,"y":0.4},{"x":49.6,"y":0.3},{"x":49.8,"y":0.22},{"x":48.8,"y":0.15},{"x":49.5,"y":0.1},{"x":50.0,"y":0.0},{"x":49.7,"y":-0.1},{"x":48.6,"y":-0.15},{"x":49.9,"y":-0.2},{"x":49.4,"y":-0.3},{"x":50.1,"y":-0.35},{"x":49.6,"y":-0.45},{"x":48.9,"y":-0.5},{"x":49.8,"y":-0.6},{"x":49.5,"y":-0.7},{"x":50.0,"y":-0.8},{"x":48.7,"y":-0.85},{"x":49.7,"y":-0.95},{"x":49.4,"y":-1.05},{"x":49.9,"y":-1.15},{"x":49.6,"y":-1.25},{"x":49.8,"y":-1.35},{"x":49.5,"y":-1.42},{"x":49.2,"y":-1.3},
{"x":54.8,"y":1.25},{"x":55.9,"y":1.2},{"x":55.3,"y":1.05},{"x":54.6,"y":0.85},{"x":55.7,"y":0.7},{"x":55.0,"y":0.55},{"x":56.0,"y":0.4},{"x":54.7,"y":0.3},{"x":55.5,"y":0.2},{"x":55.9,"y":0.05},{"x":54.9,"y":-0.05},{"x":55.4,"y":-0.15},{"x":55.8,"y":-0.3},{"x":55.1,"y":-0.45},{"x":55.6,"y":-0.55},{"x":54.8,"y":-0.7},
{"x":57.6,"y":1.3},{"x":58.8,"y":1.25},{"x":59.5,"y":1.3},{"x":58.2,"y":1.1},{"x":58.6,"y":0.95},{"x":57.9,"y":0.85},{"x":58.9,"y":0.75},{"x":58.4,"y":0.65},{"x":57.5,"y":0.55},{"x":58.7,"y":0.5},{"x":58.3,"y":0.4},{"x":59.0,"y":0.3},{"x":58.5,"y":0.2},{"x":57.8,"y":0.1},{"x":58.8,"y":0.05},{"x":58.4,"y":-0.05},{"x":59.1,"y":-0.15},{"x":58.6,"y":-0.25},{"x":57.7,"y":-0.35},{"x":58.9,"y":-0.4},{"x":58.3,"y":-0.5},{"x":58.7,"y":-0.6},{"x":57.6,"y":-0.7},{"x":59.0,"y":-0.75},{"x":58.5,"y":-0.85},{"x":58.8,"y":-0.95},{"x":58.2,"y":-1.05},{"x":58.9,"y":-1.15},{"x":58.6,"y":-1.25},{"x":59.1,"y":-1.45},
{"x":62.7,"y":1.3},{"x":62.7,"y":1.05},{"x":62.6,"y":0.72},{"x":62.8,"y":0.6},{"x":62.7,"y":0.5},{"x":62.6,"y":0.4},{"x":62.8,"y":0.3},{"x":62.7,"y":0.2},{"x":62.6,"y":0.1},{"x":62.8,"y":0.0},{"x":62.7,"y":-0.1},{"x":62.6,"y":-0.2},{"x":62.8,"y":-0.3},{"x":62.7,"y":-0.4},{"x":62.6,"y":-0.5},{"x":62.8,"y":-0.6},{"x":62.7,"y":-0.7},{"x":62.5,"y":-1.45},
{"x":65.5,"y":1.3},{"x":66.8,"y":1.35},{"x":67.4,"y":1.45},{"x":65.6,"y":1.05},{"x":67.2,"y":1.1},{"x":65.4,"y":0.85},{"x":67.5,"y":0.9},{"x":66.0,"y":0.7},{"x":67.3,"y":0.7},{"x":65.5,"y":0.55},{"x":66.9,"y":0.55},{"x":67.5,"y":0.45},{"x":65.7,"y":0.35},{"x":67.1,"y":0.3},{"x":65.4,"y":0.2},{"x":66.8,"y":0.1},{"x":67.4,"y":0.05},{"x":65.6,"y":-0.05},{"x":67.2,"y":-0.15},{"x":66.1,"y":-0.25},{"x":67.5,"y":-0.3},{"x":65.5,"y":-0.4},{"x":66.9,"y":-0.5},{"x":67.3,"y":-0.6},{"x":65.7,"y":-0.7},{"x":67.1,"y":-0.8},{"x":65.4,"y":-0.9},{"x":66.7,"y":-1.0},{"x":67.4,"y":-1.1},{"x":65.6,"y":-1.15},{"x":67.2,"y":-1.3},{"x":66.0,"y":-1.25}
],
"b4": [{"x":2.7,"y":0.07},{"x":69.1,"y":-0.06}],
"m4": [{"x":4.5,"y":0.07},{"x":9.45,"y":0.13},{"x":10.7,"y":0.07},{"x":12.5,"y":-0.03},{"x":15.6,"y":-0.12},{"x":29.8,"y":-0.17},{"x":30.4,"y":-0.1},{"x":35.3,"y":-0.06},{"x":41.5,"y":-0.03},{"x":42.1,"y":0.0},{"x":53.8,"y":0.0},{"x":54.4,"y":-0.05},{"x":67.3,"y":-0.05}]
},
"concat": [
{
 "width": 402, "height": 120,
 "encoding": {
  "x": {"field": "x", "type": "quantitative", "title": "oil", "scale": {"domain": [-2.44, 2.52], "nice": false, "zero": false}, "axis": {"values": [-2, -1, 0, 1, 2], "labelExpr": "datum.value < 0 ? '-' + format(-datum.value, 'd') : format(datum.value, 'd')"}},
  "y": {"field": "y", "type": "quantitative", "title": "Component+Residual(tra", "scale": {"domain": [-1.6, 1.55], "nice": false, "zero": false}, "axis": {"values": [-1.5, -1, -0.5, 0, 0.5, 1, 1.5], "labelExpr": "datum.value == -1.5 ? '-1.5' : (datum.value == 0.5 ? '0.5' : '')"}}
 },
 "layer": [
  {"data": {"name": "p1"}, "mark": {"type": "point", "shape": "circle", "filled": false, "color": "black", "strokeWidth": 1.8, "size": 70, "opacity": 1, "clip": true}},
  {"data": {"name": "b1"}, "mark": {"type": "line", "color": "#0000ff", "strokeWidth": 3, "strokeDash": [15, 10], "clip": true}},
  {"data": {"name": "m1"}, "mark": {"type": "line", "color": "#ff00ff", "strokeWidth": 3, "clip": true}}
 ]
},
{
 "width": 402, "height": 120,
 "encoding": {
  "x": {"field": "x", "type": "quantitative", "title": "dummy", "scale": {"domain": [-0.038, 1.035], "nice": false, "zero": false}, "axis": {"values": [0, 0.2, 0.4, 0.6, 0.8, 1], "format": ".1f"}},
  "y": {"field": "y", "type": "quantitative", "title": "Component+Residual(tra", "scale": {"domain": [-1.6, 1.55], "nice": false, "zero": false}, "axis": {"values": [-1.5, -1, -0.5, 0, 0.5, 1, 1.5], "labelExpr": "datum.value == -1.5 ? '-1.5' : (datum.value == 0.5 ? '0.5' : '')"}}
 },
 "layer": [
  {"data": {"name": "p2"}, "mark": {"type": "point", "shape": "circle", "filled": false, "color": "black", "strokeWidth": 1.8, "size": 70, "opacity": 1, "clip": true}},
  {"data": {"name": "b2"}, "mark": {"type": "line", "color": "#0000ff", "strokeWidth": 3, "strokeDash": [15, 10], "clip": true}},
  {"data": {"name": "m2"}, "mark": {"type": "line", "color": "#ff00ff", "strokeWidth": 3, "clip": true}}
 ]
},
{
 "width": 402, "height": 120,
 "encoding": {
  "x": {"field": "x", "type": "quantitative", "title": "emission", "scale": {"domain": [25.7, 93.5], "nice": false, "zero": false}, "axis": {"values": [30, 40, 50, 60, 70, 80, 90], "format": "d"}},
  "y": {"field": "y", "type": "quantitative", "title": "Component+Residual(tra", "scale": {"domain": [-1.6, 1.55], "nice": false, "zero": false}, "axis": {"values": [-1.5, -1, -0.5, 0, 0.5, 1, 1.5], "labelExpr": "datum.value == -1.5 ? '-1.5' : (datum.value == 0.5 ? '0.5' : '')"}}
 },
 "layer": [
  {"data": {"name": "p3"}, "mark": {"type": "point", "shape": "circle", "filled": false, "color": "black", "strokeWidth": 1.8, "size": 70, "opacity": 1, "clip": true}},
  {"data": {"name": "b3"}, "mark": {"type": "line", "color": "#0000ff", "strokeWidth": 3, "strokeDash": [15, 10], "clip": true}},
  {"data": {"name": "m3"}, "mark": {"type": "line", "color": "#ff00ff", "strokeWidth": 3, "clip": true}}
 ]
},
{
 "width": 402, "height": 120,
 "encoding": {
  "x": {"field": "x", "type": "quantitative", "title": "climate", "scale": {"domain": [2.7, 69.1], "nice": false, "zero": false}, "axis": {"values": [10, 20, 30, 40, 50, 60], "format": "d"}},
  "y": {"field": "y", "type": "quantitative", "title": "Component+Residual(tra", "scale": {"domain": [-1.6, 1.55], "nice": false, "zero": false}, "axis": {"values": [-1.5, -1, -0.5, 0, 0.5, 1, 1.5], "labelExpr": "datum.value == -1.5 ? '-1.5' : (datum.value == 0.5 ? '0.5' : '')"}}
 },
 "layer": [
  {"data": {"name": "p4"}, "mark": {"type": "point", "shape": "circle", "filled": false, "color": "black", "strokeWidth": 1.8, "size": 70, "opacity": 1, "clip": true}},
  {"data": {"name": "b4"}, "mark": {"type": "line", "color": "#0000ff", "strokeWidth": 3, "strokeDash": [15, 10], "clip": true}},
  {"data": {"name": "m4"}, "mark": {"type": "line", "color": "#ff00ff", "strokeWidth": 3, "clip": true}}
 ]
}
]
}
